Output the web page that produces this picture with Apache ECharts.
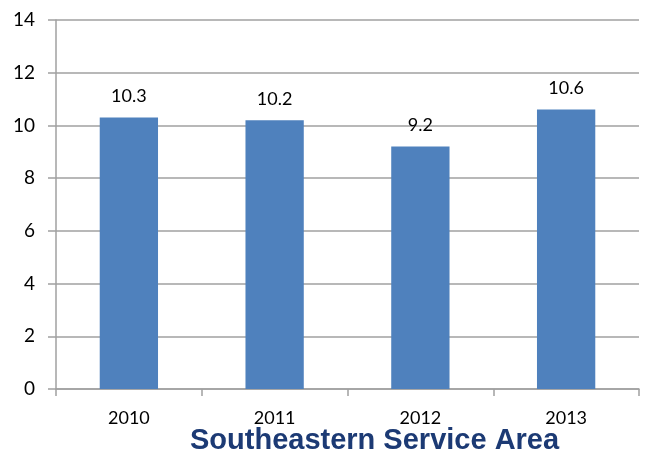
<!DOCTYPE html>
<html><head><meta charset="utf-8">
<script src="https://cdn.jsdelivr.net/npm/echarts@6/dist/echarts.min.js"></script>
<style>html,body{margin:0;padding:0;background:#fff}#c{width:647px;height:449px}</style>
</head><body><div id="c"></div>
<script>
var categories = ['2010', '2011', '2012', '2013'];
var values = [10.3, 10.2, 9.2, 10.6];
var yTicks = {min: 0, max: 14, interval: 2};
var titleText = 'Southeastern Service Area';

var chart = echarts.init(document.getElementById('c'));
chart.setOption({
  animation: false,
  title: {
    text: titleText, left: 185, top: 421,
    textStyle: {fontFamily: 'Liberation Sans', fontWeight: 'bold', fontSize: 29, color: '#1C3A74'}
  },
  grid: {left: 56, right: 8, top: 20, bottom: 60},
  xAxis: {
    type: 'category', data: categories,
    axisLine: {lineStyle: {color: '#A0A0A0', width: 1.5}},
    axisTick: {show: true, length: 7, lineStyle: {color: '#A0A0A0', width: 1.5}},
    axisLabel: {margin: 20, fontFamily: 'Lato', fontSize: 18, color: '#000'}
  },
  yAxis: {
    type: 'value', min: yTicks.min, max: yTicks.max, interval: yTicks.interval,
    axisLine: {show: true, lineStyle: {color: '#A0A0A0', width: 1.5}},
    axisTick: {show: true, length: 8, lineStyle: {color: '#A0A0A0', width: 1.5}},
    splitLine: {lineStyle: {color: '#A0A0A0', width: 1.5}},
    axisLabel: {margin: 21, fontFamily: 'Lato', fontSize: 19, color: '#000'}
  },
  series: [{
    type: 'bar', data: values, barWidth: '40%',
    itemStyle: {color: '#4F81BD'},
    label: {show: true, position: 'top', distance: 12, fontFamily: 'Lato', fontSize: 18, color: '#000'}
  }]
});
</script></body></html>
